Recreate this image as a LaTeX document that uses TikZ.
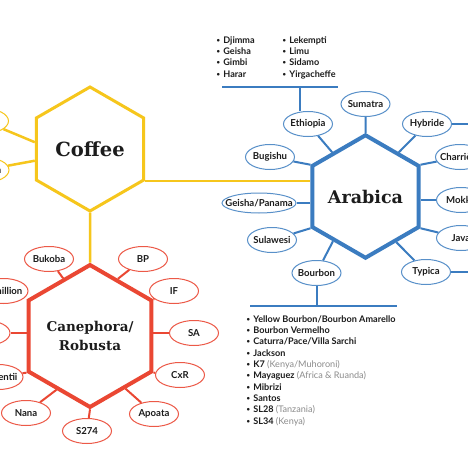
\documentclass[tikz,border=0pt]{standalone}
\usepackage{fontspec}
\setmainfont{Lato}
\newfontfamily\hexfont{DejaVu Serif}
\usetikzlibrary{shapes.geometric}

\definecolor{cofyellow}{HTML}{F6C61C}
\definecolor{arablue}{HTML}{3B7CC0}
\definecolor{robred}{HTML}{EA4733}
\definecolor{notegray}{HTML}{8C8C8C}
\definecolor{inkblack}{HTML}{1C1C1C}
\newcommand\greynote[1]{{\mdseries\color{notegray}#1}}
\newcommand\dotmark{\raisebox{0.9pt}{\fontsize{6}{6}\selectfont\textbullet}\hspace{3.2pt}}

\begin{document}
\begin{tikzpicture}[x=1pt, y=-1pt,
  hex/.style = {regular polygon, regular polygon sides=6, shape border rotate=30,
    minimum size=#1, inner sep=0pt, fill=white, text=inkblack},
  bubble/.style = {ellipse, fill=white, line width=1pt, minimum width=49,
    minimum height=25, inner ysep=0pt, inner xsep=-5pt, text=inkblack,
    font=\fontsize{9.6}{10}\selectfont\bfseries},
  bubblue/.style = {bubble, draw=arablue!85},
  bubred/.style = {bubble, draw=robred!90},
  bubyel/.style = {bubble, draw=cofyellow},
  blueline/.style = {draw=arablue, line width=2pt},
  redline/.style = {draw=robred, line width=2pt},
  yelline/.style = {draw=cofyellow, line width=2.5pt},
  listtxt/.style = {anchor=base west, inner sep=0pt, text=inkblack,
    font=\fontsize{9.1}{10}\selectfont\bfseries}]
\useasboundingbox (0,0) rectangle (468,468);
\clip (0,0) rectangle (468,468);
\fill[white] (0,0) rectangle (468,468);

% main hexagons
\node[hex=124, draw=cofyellow, line width=3pt,
  font=\hexfont\bfseries\fontsize{19.5}{20}\selectfont] (coffee) at (90,149) {Coffee};
\node[hex=120, draw=arablue, line width=4pt,
  font=\hexfont\bfseries\fontsize{17.5}{20}\selectfont] (arabica) at (365.5,196.5) {Arabica};
\node[hex=118, draw=robred, line width=4pt, align=center,
  font=\hexfont\bfseries\fontsize{13.5}{19}\selectfont] (robusta) at (90,336) {Canephora/\\Robusta};

% coffee branches
\node[bubyel] (cofupper) at (-16,121) {};
\node[bubyel] (liberica) at (-15.5,170) {Liberica};
\draw[yelline] (coffee.173) -- (cofupper);
\draw[yelline] (coffee.192) -- (liberica);
\draw[yelline] (coffee.330) -- (coffee.330 -| arabica.west);
\draw[yelline] (coffee.270) -- (robusta.90);

% arabica varieties
\node[bubblue] (sumatra) at (365.5,104) {Sumatra};
\node[bubblue] (ethiopia) at (308,124) {Ethiopia};
\node[bubblue] (hybride) at (427,124) {Hybride};
\node[bubblue] (bugishu) at (270,157) {Bugishu};
\node[bubblue] (charriere) at (460,157) {Charrière};
\node[bubblue, minimum width=74, minimum height=20, inner xsep=-8pt] (geisha) at (259,203) {Geisha/Panama};
\node[bubblue] (mokka) at (461,200) {Mokka};
\node[bubblue] (sulawesi) at (272,240) {Sulawesi};
\node[bubblue] (java) at (461,238) {Java};
\node[bubblue] (bourbon) at (316.5,273) {Bourbon};
\node[bubblue] (typica) at (426,272) {Typica};

\draw[blueline] (arabica.90) -- (sumatra);
\draw[blueline] (arabica.127) -- (ethiopia);
\draw[blueline] (arabica.53) -- (hybride);
\draw[blueline] (arabica.150) -- (bugishu);
\draw[blueline] (arabica.30) -- (charriere);
\draw[blueline] (arabica.west |- geisha.east) -- (geisha.east);
\draw[blueline] (arabica.east |- mokka.west) -- (mokka.west);
\draw[blueline] (arabica.210) -- (sulawesi);
\draw[blueline] (arabica.330) -- (java);
\draw[blueline] (arabica.234) -- (bourbon);
\draw[blueline] (arabica.304) -- (typica);
\coordinate (hybout) at (472,124);
\coordinate (typout) at (472,272);
\draw[blueline] (hybride.east) -- (hybout);
\draw[blueline] (typica.east) -- (typout);

% ethiopia list
\coordinate (ethbarl) at (222,87);
\coordinate (ethbarr) at (338,87);
\coordinate (ethdrop) at (300,87);
\draw[blueline] (ethbarl) -- (ethbarr);
\draw[blueline] (ethdrop) -- (ethdrop |- ethiopia.north);
\foreach \nm [count=\i] in {Djimma, Geisha, Gimbi, Harar}
  \node[listtxt] (etha\i) at (216.5, 43.2+11.3*\i-11.3) {\dotmark\nm};
\foreach \nm [count=\i] in {Lekempti, Limu, Sidamo, Yirgacheffe}
  \node[listtxt] (ethb\i) at (282.5, 43.2+11.3*\i-11.3) {\dotmark\nm};

% bourbon list
\coordinate (bourbarl) at (250,306);
\coordinate (bourbarr) at (397,306);
\draw[blueline] (bourbarl) -- (bourbarr);
\draw[blueline] (bourbon.south) -- (bourbon.south |- bourbarl);
\foreach \nm [count=\i] in {Yellow Bourbon/Bourbon Amarello, Bourbon Vermelho,
    Caturra/Pace/Villa Sarchi, Jackson, K7 \greynote{(Kenya/Muhoroni)},
    Mayaguez \greynote{(Africa \& Ruanda)}, Mibrizi, Santos,
    SL28 \greynote{(Tanzania)}, SL34 \greynote{(Kenya)}}
  \node[listtxt] (bour\i) at (246.5, 322.2+11.33*\i-11.33) {\dotmark\nm};

% canephora varieties
\node[bubred] (bukoba) at (49,259) {Bukoba};
\node[bubred] (bp) at (143,259) {BP};
\node[bubred] (conillion) at (3.5,291) {Conillion};
\node[bubred] (ifv) at (174,291) {IF};
\node[bubred] (robleft) at (-14.5,333) {};
\node[bubred] (sa) at (194,333) {SA};
\node[bubred] (laurentii) at (-1.5,377) {Laurentii};
\node[bubred] (cxr) at (180,375) {CxR};
\node[bubred] (nana) at (26,413) {Nana};
\node[bubred] (apoata) at (154,414) {Apoata};
\node[bubred] (s274) at (87,431) {S274};

\draw[redline] (robusta.115) -- (bukoba);
\draw[redline] (robusta.64) -- (bp);
\draw[redline] (robusta.30) -- (ifv);
\draw[redline] (robusta.east |- sa.west) -- (sa.west);
\draw[redline] (robusta.west |- robleft.east) -- (robleft.east);
\draw[redline] (robusta.330) -- (cxr);
\draw[redline] (robusta.210) -- (laurentii);
\draw[redline] (robusta.304) -- (apoata);
\draw[redline] (robusta.238) -- (nana);
\draw[redline] (robusta.270) -- (s274);
\end{tikzpicture}
\end{document}
